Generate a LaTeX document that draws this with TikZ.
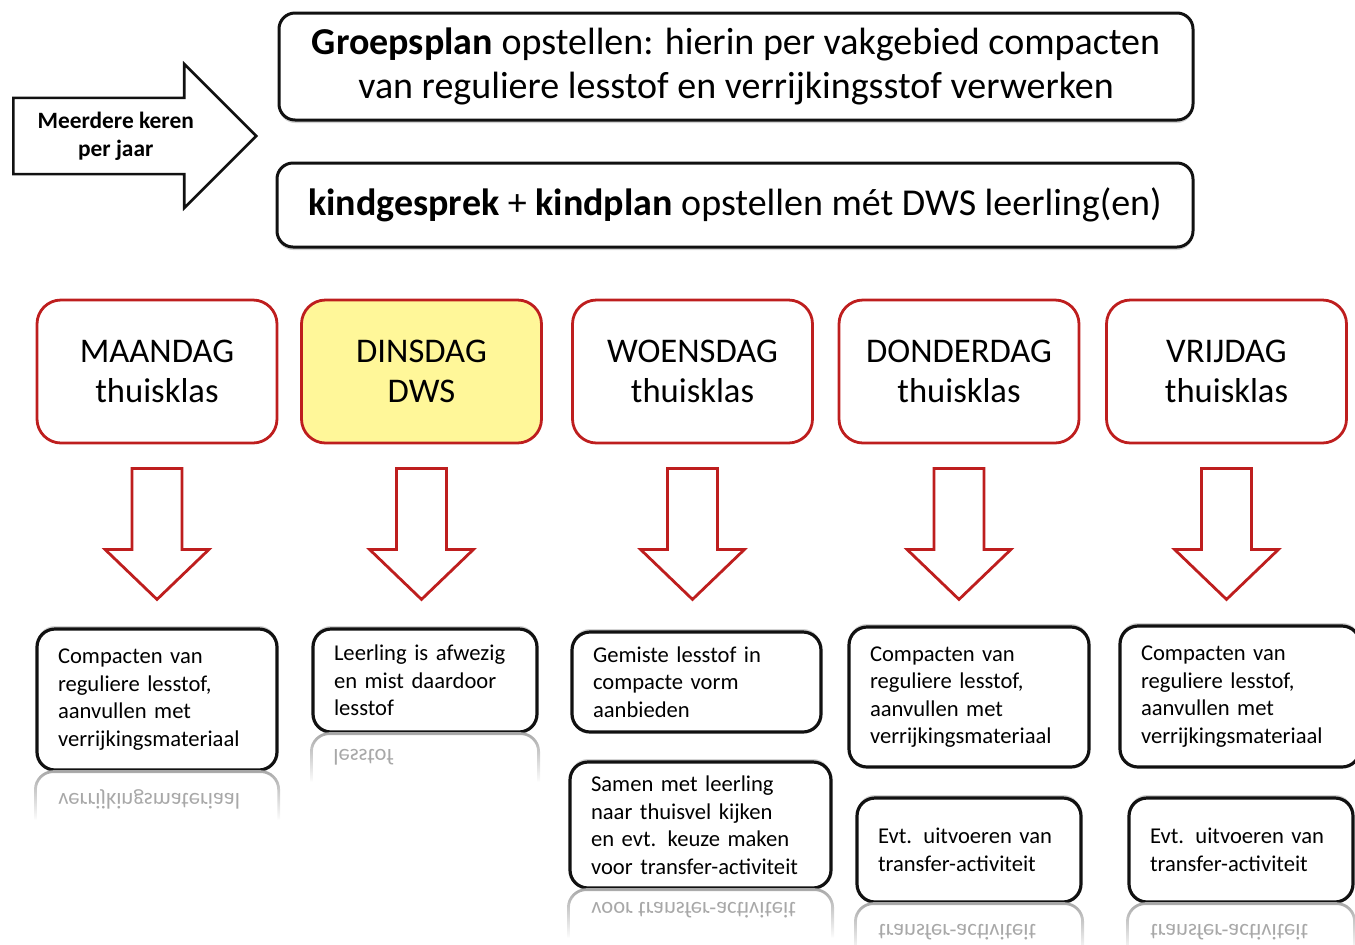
\documentclass[tikz,border=0pt]{standalone}
\usepackage{fontspec}
\setmainfont{Carlito}
\usepackage{graphicx}
\usetikzlibrary{shapes.arrows,shadows,fadings,positioning}
\definecolor{ink}{HTML}{111111}
\definecolor{dayred}{HTML}{BE1E1E}
\definecolor{dwsfill}{HTML}{FFF799}
\definecolor{glass}{HTML}{A8A8A8}
\tikzset{
  plan/.style={draw=ink,fill=white,line width=1.5pt,rounded corners=8pt,align=center,font=\fontsize{19}{22}\selectfont,drop shadow={shadow xshift=0pt,shadow yshift=-1.5pt,opacity=0.35}},
  day/.style={draw=dayred,fill=white,line width=1.4pt,rounded corners=12pt,minimum width=120pt,minimum height=71.5pt,align=center,font=\fontsize{17.3}{20}\selectfont},
  dws/.style={day,fill=dwsfill},
  hollow/.style={draw=dayred,fill=white,line width=1.4pt},
  note/.style={draw=ink,fill=white,line width=1.6pt,rounded corners=9pt,align=left,inner xsep=10.5pt,text width=#1,font=\fontsize{11.3}{13.75}\selectfont,drop shadow={shadow xshift=0pt,shadow yshift=1.5pt,opacity=0.35}},
  mirror/.style={text=glass,font=\fontsize{11.3}{13.75}\selectfont,inner sep=0pt},
  mirror edge/.style={draw=glass,line width=1.4pt,rounded corners=9pt,path fading=south},
  yearly/.style={single arrow,draw=ink,fill=white,line width=1.3pt,single arrow head extend=17pt,minimum height=121.5pt,inner ysep=6.3pt,align=center,font=\bfseries\fontsize{11.7}{14}\selectfont}
}

\begin{document}
\begin{tikzpicture}[x=0.5pt,y=-0.5pt]
  \useasboundingbox (0,0) rectangle (1355,944);

  \node[yearly,anchor=tail] (yearly) at (12,136) {Meerdere keren\\per jaar};
  \node[plan,minimum width=457pt,minimum height=53.5pt] (groepsplan) at (736,66.5)
    {\textbf{Groepsplan} opstellen: hierin per vakgebied compacten\\van reguliere lesstof en verrijkingsstof verwerken};
  \node[plan,minimum width=458pt,minimum height=42pt] (kindplan) at (735,205)
    {\textbf{kindgesprek} + \textbf{kindplan} opstellen mét DWS leerling(en)};

  \node[day] (maandag) at (157,371.5) {MAANDAG\\thuisklas};
  \node[dws] (dinsdag) at (421.5,371.5) {DINSDAG\\DWS};
  \node[day] (woensdag) at (692.5,371.5) {WOENSDAG\\thuisklas};
  \node[day] (donderdag) at (959,371.5) {DONDERDAG\\thuisklas};
  \node[day] (vrijdag) at (1226.5,371.5) {VRIJDAG\\thuisklas};

  \foreach \d in {maandag,dinsdag,woensdag,donderdag,vrijdag}
    \draw[hollow] ([yshift=-12pt]\d.south) ++(-12.5pt,0) -- ++(0,-40.5pt) -- ++(-13.5pt,0)
      -- ++(26pt,-25pt) -- ++(26pt,25pt) -- ++(-13.5pt,0) -- ++(0,40.5pt) -- cycle;

  \node[note=99pt,minimum height=70.5pt] (ma-compact) at (157,699.5)
    {Compacten van\\reguliere lesstof,\\aanvullen met\\verrijkingsmateriaal};
  \node[note=91pt,minimum height=51.5pt] (di-afwezig) at (425,680.5)
    {Leerling is afwezig\\en mist daardoor\\lesstof};
  \node[note=103.5pt,minimum height=50pt] (wo-gemist) at (696.5,682)
    {Gemiste lesstof in\\compacte vorm\\aanbieden};
  \node[note=109.5pt,minimum height=63pt] (wo-samen) at (700.5,825)
    {Samen met leerling\\naar thuisvel kijken\\en evt. keuze maken\\voor transfer-activiteit};
  \node[note=99pt,minimum height=70pt] (do-compact) at (969,697)
    {Compacten van\\reguliere lesstof,\\aanvullen met\\verrijkingsmateriaal};
  \node[note=91pt,minimum height=52pt] (do-transfer) at (969,850)
    {Evt. uitvoeren van\\transfer-activiteit};
  \node[note=99pt,minimum height=70.5pt] (vr-compact) at (1240,696.5)
    {Compacten van\\reguliere lesstof,\\aanvullen met\\verrijkingsmateriaal};
  \node[note=91pt,minimum height=52pt] (vr-transfer) at (1241,850)
    {Evt. uitvoeren van\\transfer-activiteit};

  % spiegelingen
  \node[mirror,anchor=west] (ma-mirror) at (58,799) {\scalebox{1}[-1]{verrijkingsmateriaal}};
  \node[mirror,anchor=west] (di-mirror) at (333,757) {\scalebox{1}[-1]{lesstof}};
  \node[mirror,anchor=west] (wo-mirror) at (591,910) {\scalebox{1}[-1]{voor transfer-activiteit}};
  \node[mirror,anchor=west] (do-mirror) at (878,932) {\scalebox{1}[-1]{transfer-activiteit}};
  \node[mirror,anchor=west] (vr-mirror) at (1150,932) {\scalebox{1}[-1]{transfer-activiteit}};
  \foreach \n in {ma-compact,di-afwezig,wo-samen,do-transfer,vr-transfer}
    \draw[mirror edge] ([yshift=-24pt]\n.south west) -- (\n.south west) -- (\n.south east) -- ([yshift=-24pt]\n.south east);
\end{tikzpicture}
\end{document}
